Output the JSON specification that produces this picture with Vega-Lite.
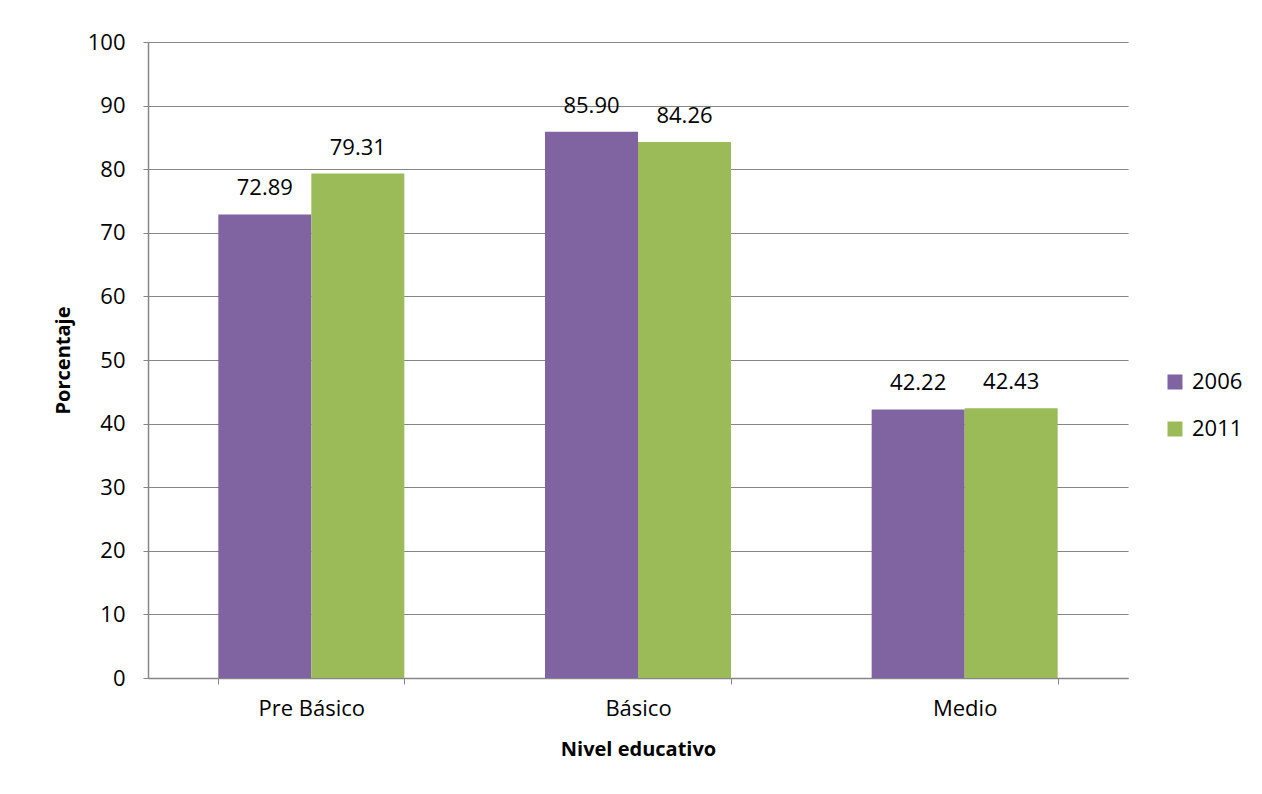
{
  "$schema": "https://vega.github.io/schema/vega-lite/v6.json",
  "width": 980,
  "height": 636,
  "autosize": {"type": "none"},
  "padding": {"left": 148, "top": 42, "right": 134, "bottom": 116},
  "background": "white",
  "config": {
    "font": "Open Sans",
    "view": {"stroke": null},
    "axis": {"labelFont": "Open Sans", "titleFont": "Open Sans", "labelColor": "black", "titleColor": "black"}
  },
  "data": {
    "values": [
      {"nivel": "Pre Básico", "anio": "2006", "valor": 72.89},
      {"nivel": "Pre Básico", "anio": "2011", "valor": 79.31},
      {"nivel": "Básico", "anio": "2006", "valor": 85.90},
      {"nivel": "Básico", "anio": "2011", "valor": 84.26},
      {"nivel": "Medio", "anio": "2006", "valor": 42.22},
      {"nivel": "Medio", "anio": "2011", "valor": 42.43}
    ]
  },
  "encoding": {
    "x": {
      "field": "nivel", "type": "nominal", "sort": ["Pre Básico", "Básico", "Medio"],
      "scale": {"paddingInner": 0.4306, "paddingOuter": 0.2153},
      "axis": {
        "title": "Nivel educativo", "titleFontSize": 20, "titleFontWeight": "bold", "titlePadding": 20,
        "labelAngle": 0, "labelFontSize": 22, "labelFontWeight": "normal", "labelPadding": 14,
        "tickBand": "extent", "tickSize": 6, "tickColor": "#868686", "domainColor": "#868686", "domainWidth": 1.5,
        "grid": false
      }
    },
    "xOffset": {"field": "anio", "type": "nominal"},
    "y": {
      "field": "valor", "type": "quantitative",
      "scale": {"domain": [0, 100]},
      "axis": {
        "title": "Porcentaje", "titleFontSize": 20, "titleFontWeight": "bold", "titlePadding": 14,
        "values": [0, 10, 20, 30, 40, 50, 60, 70, 80, 90, 100],
        "labelFontSize": 22, "labelPadding": 18, "tickSize": 5, "tickColor": "#868686",
        "domainColor": "#868686", "domainWidth": 1.5,
        "grid": true, "gridColor": "#868686", "gridWidth": 1.2
      }
    }
  },
  "layer": [
    {
      "mark": {"type": "bar"},
      "encoding": {
        "color": {
          "field": "anio", "type": "nominal",
          "scale": {"domain": ["2006", "2011"], "range": ["#8064A2", "#9BBB59"]},
          "legend": {
            "title": null, "orient": "none", "legendX": 1016, "legendY": 329,
            "symbolType": "square", "symbolSize": 225, "symbolStrokeWidth": 0,
            "labelFontSize": 22, "labelFont": "Open Sans", "labelColor": "black", "rowPadding": 25, "labelOffset": 6
          }
        }
      }
    },
    {
      "mark": {"type": "text", "baseline": "bottom", "dy": -14, "fontSize": 22, "font": "Open Sans", "color": "black"},
      "encoding": {
        "text": {"field": "valor", "type": "quantitative", "format": ".2f"}
      }
    }
  ]
}
